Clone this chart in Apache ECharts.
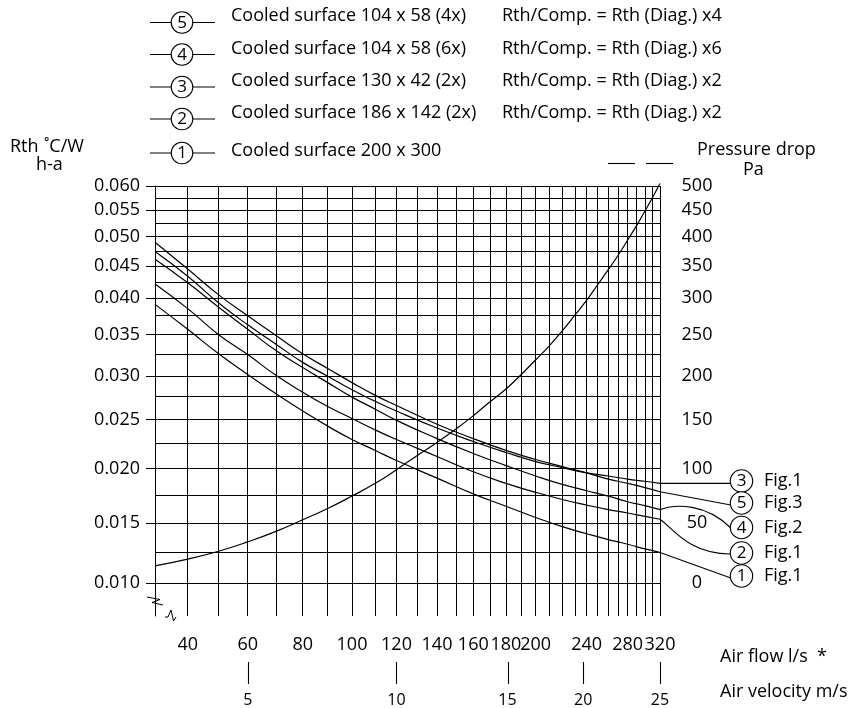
<!DOCTYPE html>
<html>
<head>
<meta charset="utf-8">
<title>Rth h-a vs air flow</title>
<script src="https://cdn.jsdelivr.net/npm/echarts@6.0.0/dist/echarts.min.js"></script>
<style>
html,body{margin:0;padding:0;background:#fff;}
#chart{width:856px;height:708px;}
</style>
</head>
<body>
<div id="chart"></div>
<script>
// ---------------- data ----------------
const airflow   = [30, 40, 50, 60, 70, 80, 90, 100, 110, 120, 140, 160, 180, 200, 220, 240, 260, 280, 300, 320];
const rthCurve1 = [0.0391, 0.0357, 0.0326, 0.0302, 0.0278, 0.0259, 0.0243, 0.0229, 0.0218, 0.0208, 0.0191, 0.0176, 0.0165, 0.0155, 0.0147, 0.0141, 0.0136, 0.0132, 0.0128, 0.0125];
const rthCurve2 = [0.0422, 0.0385, 0.0350, 0.0325, 0.0301, 0.0280, 0.0264, 0.0251, 0.0239, 0.0229, 0.0212, 0.0197, 0.0186, 0.01775, 0.0171, 0.0166, 0.0162, 0.0159, 0.0156, 0.01535];
const rthCurve3 = [0.0474, 0.0434, 0.0393, 0.0363, 0.0338, 0.0316, 0.0300, 0.0283, 0.02695, 0.0259, 0.0241, 0.0227, 0.0216, 0.0207, 0.0201, 0.0196, 0.0193, 0.0190, 0.0188, 0.0186];
const rthCurve4 = [0.0461, 0.0424, 0.0387, 0.0357, 0.0330, 0.0310, 0.0292, 0.0274, 0.0261, 0.0249, 0.0230, 0.0215, 0.0203, 0.0193, 0.0185, 0.0179, 0.0174, 0.0169, 0.01655, 0.0162];
const rthCurve5 = [0.0490, 0.0445, 0.0405, 0.0375, 0.0349, 0.0326, 0.0309, 0.0292, 0.0276, 0.0265, 0.0245, 0.0230, 0.0218, 0.0209, 0.0202, 0.0196, 0.0190, 0.0186, 0.0182, 0.0178];

const pressureFlow = [30, 40, 50, 60, 70, 80, 90, 100, 110, 120, 130, 140, 150, 160, 170, 180, 190, 200, 210, 220, 230, 240, 250, 260, 270, 280, 290, 300, 310, 320];
const pressurePa   = [14, 19.5, 26, 34, 43, 53, 63, 74, 86, 99, 113, 126, 140, 154, 169, 184, 202, 219, 236, 255, 276, 297, 320, 344, 368, 394, 421, 448, 477, 505];

const legendIds    = ['5', '4', '3', '2', '1'];
const surfaceNames = ['Cooled surface 104 x 58 (4x)', 'Cooled surface 104 x 58 (6x)', 'Cooled surface 130 x 42 (2x)', 'Cooled surface 186 x 142 (2x)', 'Cooled surface 200 x 300'];
const compNotes    = ['Rth/Comp. = Rth (Diag.) x4', 'Rth/Comp. = Rth (Diag.) x6', 'Rth/Comp. = Rth (Diag.) x2', 'Rth/Comp. = Rth (Diag.) x2', ''];
const endIds       = ['3', '5', '4', '2', '1'];
const endFigs      = ['Fig.1', 'Fig.3', 'Fig.2', 'Fig.1', 'Fig.1'];

const rthTickValues  = [0.010, 0.015, 0.020, 0.025, 0.030, 0.035, 0.040, 0.045, 0.050, 0.055, 0.060];
const rthTickLabels  = ['0.010', '0.015', '0.020', '0.025', '0.030', '0.035', '0.040', '0.045', '0.050', '0.055', '0.060'];
const paTickLabels   = ['0', '50', '100', '150', '200', '250', '300', '350', '400', '450', '500'];
const rthGridValues  = [0.010, 0.0125, 0.015, 0.0175, 0.020, 0.0225, 0.025, 0.0275, 0.030, 0.0325, 0.035, 0.0375, 0.040, 0.0425, 0.045, 0.0475, 0.050, 0.0525, 0.055, 0.0575, 0.060];
const flowTickValues = [40, 60, 80, 100, 120, 140, 160, 180, 200, 240, 280, 320];
const flowGridValues = [40, 50, 60, 70, 80, 90, 100, 110, 120, 130, 140, 150, 160, 170, 180, 190, 200, 210, 220, 230, 240, 250, 260, 270, 280, 290, 300, 310, 320];
const velocityLabels = ['5', '10', '15', '20', '25'];
const velocityAtFlow = [60, 120, 181, 237, 320];

// ------------- printed (non-uniform) scale calibration, 0..100 of the grid -------------
const flowScale = [[30,0],[40,6.48],[50,12.61],[60,18.36],[70,23.96],[80,29.25],[90,34.20],[100,39.01],[110,43.62],[120,47.82],[130,51.94],[140,55.84],[150,59.60],[160,63.03],[170,66.34],[180,69.50],[190,72.53],[200,75.39],[210,78.08],[220,80.65],[230,83.17],[240,85.49],[250,87.58],[260,89.76],[270,91.74],[280,93.60],[290,95.39],[300,97.03],[310,98.55],[320,100]];
const rthScale  = [[0.010,0],[0.0125,7.71],[0.015,15.08],[0.0175,22.19],[0.020,28.82],[0.0225,35.18],[0.025,41.21],[0.0275,47.06],[0.030,52.09],[0.0325,57.54],[0.035,62.56],[0.0375,67.34],[0.040,71.78],[0.0425,75.80],[0.045,79.90],[0.0475,83.67],[0.050,87.26],[0.0525,90.63],[0.055,93.97],[0.0575,96.91],[0.060,100]];
const yBottom = -8.3;

function interp(cal, v) {
  for (let i = 0; i < cal.length - 1; i++) {
    const a = cal[i], b = cal[i + 1];
    if (v <= b[0] || i === cal.length - 2) return a[1] + (v - a[0]) / (b[0] - a[0]) * (b[1] - a[1]);
  }
}
const X = f => interp(flowScale, f);
const Y = r => interp(rthScale, r);
const paToRth = p => 0.010 + p / 10000;

function nearestLabel(values, labels, fn) {
  return function (v) {
    let best = 0, bd = Infinity;
    values.forEach((t, i) => { const d = Math.abs(fn(t) - v); if (d < bd) { bd = d; best = i; } });
    return labels[best];
  };
}

const FONT = '"Open Sans", "Liberation Sans", sans-serif';
const chart = echarts.init(document.getElementById('chart'), null, { renderer: 'canvas' });

const curves = [
  { id: '1', data: rthCurve1 },
  { id: '2', data: rthCurve2 },
  { id: '3', data: rthCurve3 },
  { id: '4', data: rthCurve4 },
  { id: '5', data: rthCurve5 }
];

const lineStyle = { color: '#000', width: 1.2 };
const series = curves.map((c, k) => ({
  name: 'Curve ' + c.id,
  type: 'line',
  xAxisIndex: 0, yAxisIndex: 0,
  data: airflow.map((f, i) => [X(f), Y(c.data[i])]),
  smooth: 0.5,
  showSymbol: false,
  symbol: 'none',
  lineStyle: lineStyle,
  z: 5,
  silent: true,
  markLine: k === 0 ? {
    silent: true,
    symbol: ['none', 'none'],
    label: { show: false },
    emphasis: { disabled: true },
    lineStyle: { color: '#000', width: 1, type: 'solid' },
    animation: false,
    data: flowGridValues.map(f => ({ xAxis: X(f) })).concat(rthGridValues.map(r => ({ yAxis: Y(r) })))
  } : undefined
}));
series.push({
  name: 'Pressure drop',
  type: 'line',
  xAxisIndex: 0, yAxisIndex: 0,
  data: pressureFlow.map((f, i) => [X(f), Y(paToRth(pressurePa[i]))]),
  smooth: 0.5,
  showSymbol: false,
  symbol: 'none',
  clip: false,
  lineStyle: lineStyle,
  z: 5,
  silent: true
});

const axisText = { color: '#000', fontFamily: FONT, fontSize: 18 };

chart.setOption({
  animation: false,
  backgroundColor: '#fff',
  grid: { left: 155, top: 186, right: 196, bottom: 91, containLabel: false },
  xAxis: [
    {
      type: 'value', min: 0, max: 100, position: 'bottom',
      axisLine: { show: true, lineStyle: { color: '#000', width: 1 } },
      axisTick: { show: true, length: 9, inside: false, customValues: flowTickValues.map(X), lineStyle: { color: '#000', width: 1 } },
      axisLabel: Object.assign({ margin: 20, customValues: flowTickValues.map(X),
        formatter: nearestLabel(flowTickValues, flowTickValues.map(String), X) }, axisText),
      splitLine: { show: false }
    },
    {
      type: 'value', min: 0, max: 100, position: 'bottom', offset: 53,
      axisLine: { show: false },
      axisTick: { show: false },
      axisLabel: { margin: 23, customValues: velocityAtFlow.map(X), color: '#000', fontFamily: FONT, fontSize: 16,
        formatter: nearestLabel(velocityAtFlow, velocityLabels, X) },
      splitLine: { show: false }
    }
  ],
  yAxis: [
    {
      type: 'value', min: yBottom, max: 100, position: 'left',
      axisLine: { show: true, lineStyle: { color: '#000', width: 1 } },
      axisTick: { show: true, length: 9, inside: false, customValues: rthTickValues.map(Y), lineStyle: { color: '#000', width: 1 } },
      axisLabel: Object.assign({ margin: 15, customValues: rthTickValues.map(Y),
        formatter: nearestLabel(rthTickValues, rthTickLabels, Y) }, axisText),
      splitLine: { show: false }
    },
    {
      type: 'value', min: yBottom, max: 100, position: 'right',
      axisLine: { show: false },
      axisTick: { show: true, length: 10, inside: false, customValues: rthTickValues.map(Y), lineStyle: { color: '#000', width: 1 } },
      axisLabel: Object.assign({ margin: 37, align: 'center', customValues: rthTickValues.map(Y),
        formatter: nearestLabel(rthTickValues, paTickLabels, Y) }, axisText),
      splitLine: { show: false }
    }
  ],
  series: series
});

// ---------------- annotations (legend, titles, leader lines) ----------------
const g = [];
const txt = (text, x, y, opt, z) => g.push({
  type: 'text', silent: true, z: z || 20,
  style: Object.assign({ text: text, x: x, y: y, fill: '#000', font: '18px ' + FONT, align: 'left', verticalAlign: 'middle' }, opt || {})
});
const seg = (x1, y1, x2, y2) => g.push({ type: 'line', silent: true, z: 20, shape: { x1, y1, x2, y2 }, style: { stroke: '#000', lineWidth: 1.1 } });
const circled = (id, cx, cy, r) => {
  g.push({ type: 'circle', silent: true, z: 21, shape: { cx, cy, r }, style: { fill: '#fff', stroke: '#000', lineWidth: 1.1 } });
  txt(id, cx, cy + 0.5, { align: 'center', font: '17px ' + FONT }, 22);
};

// top legend
const legCircleY = [22.5, 54.5, 87, 119, 153];
const legTextY   = [16, 48.5, 80.5, 113, 150.5];
legendIds.forEach((id, i) => {
  seg(150, legCircleY[i], 215, legCircleY[i]);
  circled(id, 182, legCircleY[i], 10.8);
  txt(surfaceNames[i], 231, legTextY[i]);
  if (compNotes[i]) txt(compNotes[i], 502, legTextY[i]);
});

// axis titles
txt('Rth', 10, 147);
txt('˚C/W', 44, 147);
txt('h-a', 36, 165);
txt('Pressure drop', 697, 150);
txt('Pa', 743, 170);
seg(608, 163.5, 635, 163.5);
seg(646, 163.5, 673, 163.5);
txt('Air flow l/s  *', 720, 657);
txt('Air velocity m/s', 720, 692);

// velocity ticks, placed through the secondary x axis scale
velocityAtFlow.forEach(f => {
  const px = Math.round(chart.convertToPixel({ xAxisIndex: 1 }, X(f))) + 0.5;
  seg(px, 662, px, 684);
});

// axis break marks
g.push({ type: 'polyline', silent: true, z: 20, shape: { points: [[147, 597], [160, 599.5], [152, 602.5], [163, 605]] }, style: { stroke: '#000', lineWidth: 1, fill: null } });
g.push({ type: 'polyline', silent: true, z: 20, shape: { points: [[165, 617], [168, 617], [171, 610], [173.5, 621], [176, 617]] }, style: { stroke: '#000', lineWidth: 1, fill: null } });

// curve end labels with leader lines
const endOf = id => {
  const c = curves.find(cc => cc.id === id);
  return chart.convertToPixel({ xAxisIndex: 0, yAxisIndex: 0 }, [X(airflow[airflow.length - 1]), Y(c.data[c.data.length - 1])]);
};
const endCircleY = [481, 503, 527.5, 553, 576];
const cxEnd = 741.5, rEnd = 11.2;
endIds.forEach((id, i) => {
  const p = endOf(id);
  const cy = endCircleY[i];
  if (id === '4') {
    g.push({ type: 'bezierCurve', silent: true, z: 20, shape: { x1: p[0], y1: p[1], cpx1: p[0] + 16, cpy1: p[1] - 6, cpx2: p[0] + 46, cpy2: p[1] - 6, x2: cxEnd - rEnd, y2: cy }, style: { stroke: '#000', lineWidth: 1.1, fill: null } });
  } else if (id === '2') {
    g.push({ type: 'bezierCurve', silent: true, z: 20, shape: { x1: p[0], y1: p[1], cpx1: p[0] + 12, cpy1: p[1] + 8, cpx2: p[0] + 28, cpy2: cy + 1, x2: cxEnd - rEnd, y2: cy + 1 }, style: { stroke: '#000', lineWidth: 1.1, fill: null } });
  } else if (id === '3') {
    seg(p[0], p[1], cxEnd - rEnd, p[1]);
  } else {
    seg(p[0], p[1], cxEnd - rEnd + 0.5, cy + 2);
  }
  circled(id, cxEnd, cy, rEnd);
  txt(endFigs[i], 764, cy);
});

chart.setOption({ graphic: { elements: g } });
</script>
</body>
</html>
